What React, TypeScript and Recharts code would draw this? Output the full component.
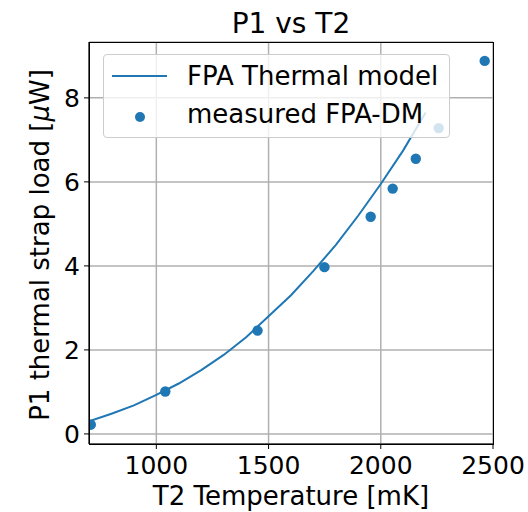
import { ComposedChart, Line, Scatter, XAxis, YAxis, CartesianGrid } from 'recharts';

const modelT = [700, 800, 900, 1000, 1100, 1200, 1300, 1400, 1500, 1600, 1700, 1800, 1900, 2000, 2100, 2200];
const modelP = [0.3, 0.48, 0.68, 0.93, 1.2, 1.52, 1.88, 2.3, 2.8, 3.3, 3.88, 4.5, 5.2, 5.95, 6.75, 7.65];

const measT = [708, 1040, 1451, 1749, 1955, 2053, 2156, 2258, 2463];
const measP = [0.22, 1.01, 2.46, 3.97, 5.17, 5.84, 6.55, 7.28, 8.88];

const xTicks = [1000, 1500, 2000, 2500];
const yTicks = [0, 2, 4, 6, 8];

const modelData = modelT.map((x, i) => ({ x, y: modelP[i] }));
const measData = measT.map((x, i) => ({ x, y: measP[i] }));

const BLUE = '#1f77b4';
const FONT = '"DejaVu Sans", sans-serif';

const PLOT = { left: 89, top: 42, right: 493, bottom: 444 };

const Dot = (props: any) => <circle cx={props.cx} cy={props.cy} r={5.2} fill={BLUE} />;

export default function App() {
  return (
    <div style={{ position: 'absolute', left: 0, top: 0, width: 528, height: 512, background: '#fff', fontFamily: FONT }}>
      <ComposedChart
        width={528}
        height={512}
        margin={{ top: PLOT.top, right: 528 - PLOT.right, left: 0, bottom: 0 }}
      >
        <CartesianGrid stroke="#b0b0b0" strokeWidth={1.5} />
        <XAxis
          type="number"
          dataKey="x"
          domain={[700, 2500]}
          ticks={xTicks}
          allowDataOverflow
          height={512 - PLOT.bottom}
          stroke="#000"
          tickSize={5}
          tickMargin={7}
          tick={{ fill: '#000', fontSize: 25, fontFamily: FONT }}
          label={{
            content: () => (
              <text x={(PLOT.left + PLOT.right) / 2} y={505} textAnchor="middle" fontSize={26} fontFamily={FONT} fill="#000">
                T2 Temperature [mK]
              </text>
            ),
          }}
        />
        <YAxis
          type="number"
          dataKey="y"
          domain={[-0.24, 9.33]}
          ticks={yTicks}
          allowDataOverflow
          width={PLOT.left}
          stroke="#000"
          tickSize={5}
          tickMargin={4}
          tick={{ fill: '#000', fontSize: 25, fontFamily: FONT }}
          label={{
            content: () => (
              <text
                x={40}
                y={245}
                transform="rotate(-90 40 245)"
                textAnchor="middle"
                dominantBaseline="central"
                fontSize={26}
                fontFamily={FONT}
                fill="#000"
              >
                P1 thermal strap load [<tspan fontStyle="italic">μ</tspan>W]
              </text>
            ),
          }}
        />
        <Line
          data={modelData}
          dataKey="y"
          type="linear"
          stroke={BLUE}
          strokeWidth={2}
          dot={false}
          activeDot={false}
          isAnimationActive={false}
        />
        <Scatter data={measData} dataKey="y" fill={BLUE} shape={Dot} isAnimationActive={false} />
      </ComposedChart>

      {/* axes frame */}
      <div
        style={{
          position: 'absolute',
          left: PLOT.left,
          top: PLOT.top,
          width: PLOT.right - PLOT.left - 1,
          height: PLOT.bottom - PLOT.top - 1,
          border: '1px solid #000',
          pointerEvents: 'none',
        }}
      />

      {/* title */}
      <svg style={{ position: 'absolute', left: 0, top: 0 }} width={528} height={40}>
        <text x={(PLOT.left + PLOT.right) / 2} y={33} textAnchor="middle" fontSize={28} fontFamily={FONT} fill="#000">
          P1 vs T2
        </text>
      </svg>

      {/* legend */}
      <div
        style={{
          position: 'absolute',
          left: 103,
          top: 54,
          width: 345,
          height: 82,
          background: 'rgba(255,255,255,0.8)',
          border: '1px solid #cccccc',
          borderRadius: 4,
          fontSize: 26,
          color: '#000',
        }}
      >
        <div style={{ position: 'absolute', left: 8, top: 20, width: 55, height: 2, background: BLUE }} />
        <div style={{ position: 'absolute', left: 83, top: 6, lineHeight: '30px', whiteSpace: 'nowrap' }}>FPA Thermal model</div>
        <div
          style={{ position: 'absolute', left: 31, top: 57, width: 10, height: 10, borderRadius: 5, background: BLUE }}
        />
        <div style={{ position: 'absolute', left: 83, top: 44, lineHeight: '30px', whiteSpace: 'nowrap' }}>measured FPA-DM</div>
      </div>
    </div>
  );
}
